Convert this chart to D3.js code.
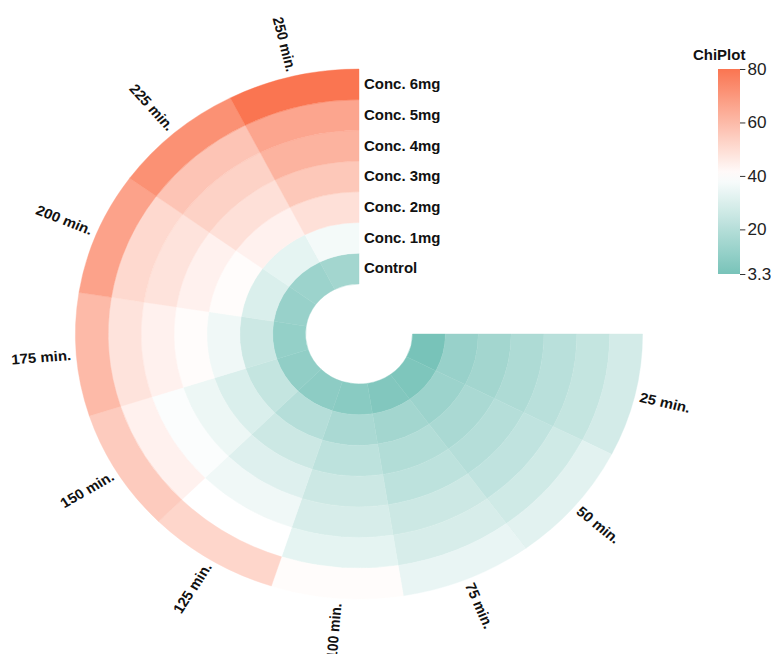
<!DOCTYPE html>
<html>
<head>
<meta charset="utf-8">
<script src="https://cdn.jsdelivr.net/npm/d3@7"></script>
<style>
  body { margin: 0; background: #fff; }
  svg { display: block; font-family: "Liberation Sans", Arial, Helvetica, sans-serif; }
</style>
</head>
<body>
<svg id="chart" width="771" height="654"></svg>
<script>
// Time points (sectors, clockwise from 3 o'clock) and concentrations (rings, inner to outer)
const times = ["25 min.", "50 min.", "75 min.", "100 min.", "125 min.",
               "150 min.", "175 min.", "200 min.", "225 min.", "250 min."];
const concentrations = ["Control", "Conc. 1mg", "Conc. 2mg", "Conc. 3mg",
                        "Conc. 4mg", "Conc. 5mg", "Conc. 6mg"];

// One series per concentration, values in time order
const control = [3.3, 5, 6, 8, 9, 10, 11, 12, 13, 15];
const conc1mg = [12, 13, 15, 17, 20, 24, 26, 30, 33, 37];
const conc2mg = [15, 17, 19, 22, 26, 30, 36, 41, 44, 49];
const conc3mg = [18, 20, 22, 26, 31, 35, 41, 44, 49, 56];
const conc4mg = [21, 23, 26, 29, 36, 39, 44, 48, 53, 62];
const conc5mg = [24, 27, 29, 33, 40, 44, 48, 51, 57, 66];
const conc6mg = [28, 32, 34, 41, 52, 55, 60, 67, 72, 80];
const seriesList = [control, conc1mg, conc2mg, conc3mg, conc4mg, conc5mg, conc6mg];

const legendTicks = [3.3, 20, 40, 60, 80];
const legendTitle = "ChiPlot";

const sx = 1.07;               // horizontal stretch of the whole figure
const cx = 359 / sx, cy = 334; // centre of the polar heatmap
const innerR = 50, outerR = 265;

const svg = d3.select("#chart");
const root = svg.append("g").attr("transform", `scale(${sx},1)`);

const angle = d3.scaleBand().domain(times).range([Math.PI / 2, 2 * Math.PI]);
const radius = d3.scaleBand().domain(concentrations).range([innerR, outerR]);
const color = d3.scaleLinear()
  .domain([3.3, 40, 80])
  .range(["#78c3b9", "#ffffff", "#fa7551"])
  .interpolate(d3.interpolateRgb);

const cells = [];
concentrations.forEach((c, i) => {
  times.forEach((t, j) => cells.push({ conc: c, time: t, value: seriesList[i][j] }));
});

const arc = d3.arc()
  .innerRadius(d => radius(d.conc))
  .outerRadius(d => radius(d.conc) + radius.bandwidth())
  .startAngle(d => angle(d.time))
  .endAngle(d => angle(d.time) + angle.bandwidth());

const plot = root.append("g").attr("transform", `translate(${cx},${cy})`);

plot.selectAll("path.cell")
  .data(cells)
  .join("path")
  .attr("class", "cell")
  .attr("d", arc)
  .attr("fill", d => color(d.value))
  .attr("stroke", d => color(d.value))
  .attr("stroke-width", 0.4);

// Time labels around the outside
const labelR = 270;
plot.selectAll("text.time")
  .data(times)
  .join("text")
  .attr("class", "time")
  .each(function (t) {
    const th = angle(t) + angle.bandwidth() / 2;
    const x = labelR * Math.sin(th), y = -labelR * Math.cos(th);
    const deg = th * 180 / Math.PI;
    const right = th < Math.PI;
    d3.select(this)
      .attr("transform", `translate(${x},${y}) rotate(${right ? deg - 90 : deg + 90})`)
      .attr("text-anchor", right ? "start" : "end");
  })
  .attr("dominant-baseline", "central")
  .attr("font-size", 14)
  .attr("font-weight", "bold")
  .attr("fill", "#111")
  .text(t => t);

// Ring labels in the open quadrant
plot.selectAll("text.conc")
  .data(concentrations)
  .join("text")
  .attr("class", "conc")
  .attr("x", 5 / sx)
  .attr("y", c => -(radius(c) + radius.bandwidth() / 2))
  .attr("dominant-baseline", "central")
  .attr("font-size", 14)
  .attr("font-weight", "bold")
  .attr("fill", "#111")
  .text(c => c);

// Colour legend
const legX = 718 / sx, legW = 22 / sx, legTop = 69, legBottom = 274;
const legScale = d3.scaleLinear().domain([3.3, 80]).range([legBottom, legTop]);

const defs = svg.append("defs");
const grad = defs.append("linearGradient")
  .attr("id", "legendGrad")
  .attr("x1", 0).attr("y1", 1).attr("x2", 0).attr("y2", 0);
d3.range(0, 1.0001, 0.05).forEach(p => {
  const v = 3.3 + p * (80 - 3.3);
  grad.append("stop").attr("offset", p).attr("stop-color", color(v));
});

const legend = root.append("g");
legend.append("rect")
  .attr("x", legX).attr("y", legTop)
  .attr("width", legW).attr("height", legBottom - legTop)
  .attr("fill", "url(#legendGrad)");

legend.append("text")
  .attr("x", 693 / sx).attr("y", 60)
  .attr("font-size", 14).attr("font-weight", "bold").attr("fill", "#111")
  .text(legendTitle);

const legAxis = legend.append("g")
  .attr("transform", `translate(${legX + legW},0)`)
  .call(d3.axisRight(legScale).tickValues(legendTicks).tickSize(5).tickPadding(2)
    .tickFormat(d => d === 3.3 ? "3.3" : String(d)));
legAxis.select(".domain").remove();
legAxis.selectAll("text").attr("font-size", 16).attr("fill", "#222")
  .attr("font-family", "Liberation Sans, Arial, sans-serif");
legAxis.selectAll("line").attr("stroke", "#333");
</script>
</body>
</html>
